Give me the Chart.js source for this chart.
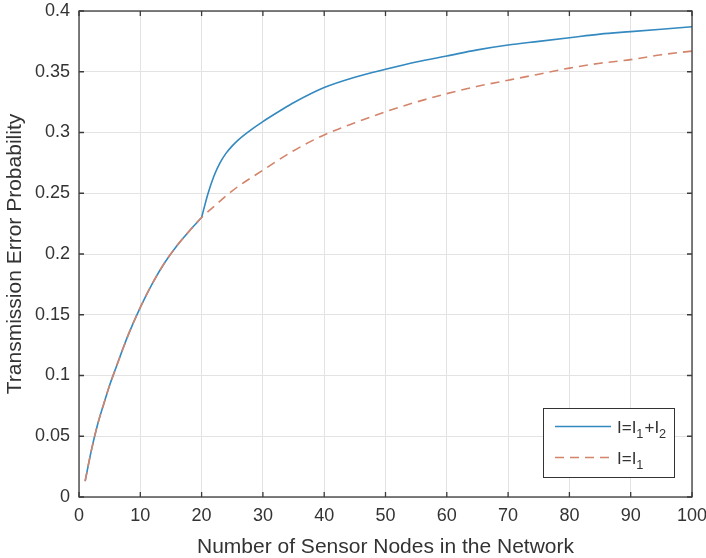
<!DOCTYPE html>
<html>
<head>
<meta charset="utf-8">
<script src="https://cdn.jsdelivr.net/npm/chart.js@4/dist/chart.umd.min.js"></script>
<style>
  html, body { margin: 0; padding: 0; background: #fff; }
  #wrap { width: 706px; height: 558px; position: relative; }
</style>
</head>
<body>
<div id="wrap"><canvas id="c" width="706" height="558"></canvas></div>
<script>
// ---- data ----
// I = I1 + I2 (shared part up to 20, then its own branch)
const xBothA = [1, 2, 3, 4, 5, 6, 8, 10, 12, 14, 16, 18, 20];
const yBothA = [0.013, 0.038, 0.059, 0.076, 0.092, 0.106, 0.133, 0.156, 0.176, 0.193, 0.207, 0.219, 0.230];
const xBothB = [20, 21, 22, 23, 24, 25, 26, 28, 30, 33, 35, 40, 45, 50, 55, 60, 65, 70, 75, 80, 85, 90, 95, 100];
const yBothB = [0.230, 0.249, 0.264, 0.275, 0.283, 0.289, 0.294, 0.302, 0.309, 0.3185, 0.3245, 0.337, 0.3455, 0.352, 0.358, 0.363, 0.368, 0.372, 0.375, 0.378, 0.381, 0.383, 0.385, 0.387];
// I = I1
const xOne = [1, 2, 3, 4, 5, 6, 8, 10, 12, 14, 16, 18, 20, 22, 25, 30, 35, 40, 45, 50, 55, 60, 65, 70, 75, 80, 85, 90, 95, 100];
const yOne = [0.013, 0.038, 0.059, 0.076, 0.092, 0.106, 0.133, 0.156, 0.176, 0.193, 0.207, 0.219, 0.230, 0.239, 0.252, 0.269, 0.285, 0.298, 0.308, 0.317, 0.325, 0.332, 0.338, 0.343, 0.348, 0.353, 0.357, 0.360, 0.364, 0.367];
const seriesLabels = ['I=I_1+I_2', 'I=I_1'];
const xTitle = 'Number of Sensor Nodes in the Network';
const yTitle = 'Transmission Error Probability';

const FONT = "'Liberation Sans', Arial, Helvetica, sans-serif";
const TXT = '#333333';
const BLUE = '#3389c0';
const RED = '#d4846a';

function pts(xs, ys) { return xs.map((x, i) => ({ x: x, y: ys[i] })); }

// draw label with "_n" subscripts
function drawSubLabel(ctx, text, x, y, size) {
  const parts = text.split(/(_\d)/).filter(s => s.length);
  let cx = x;
  ctx.textBaseline = 'alphabetic';
  ctx.textAlign = 'left';
  for (const p of parts) {
    if (p[0] === '_') {
      ctx.font = (size * 0.75) + 'px ' + FONT;
      ctx.fillText(p.slice(1), cx, y + size * 0.33);
      cx += ctx.measureText(p.slice(1)).width + 1;
    } else {
      ctx.font = size + 'px ' + FONT;
      ctx.fillText(p, cx, y);
      cx += ctx.measureText(p).width;
    }
  }
}

const boxPlugin = {
  id: 'boxPlugin',
  afterDatasetsDraw(chart) {
    const { ctx, chartArea: a, scales } = chart;
    ctx.save();
    ctx.strokeStyle = '#3a3a3a';
    ctx.lineWidth = 1.3;
    ctx.strokeRect(a.left, a.top, a.right - a.left, a.bottom - a.top);
    const tl = 5;
    ctx.beginPath();
    scales.x.ticks.forEach(t => {
      const px = scales.x.getPixelForValue(t.value);
      ctx.moveTo(px, a.bottom); ctx.lineTo(px, a.bottom - tl);
      ctx.moveTo(px, a.top); ctx.lineTo(px, a.top + tl);
    });
    scales.y.ticks.forEach(t => {
      const py = scales.y.getPixelForValue(t.value);
      ctx.moveTo(a.left, py); ctx.lineTo(a.left + tl, py);
      ctx.moveTo(a.right, py); ctx.lineTo(a.right - tl, py);
    });
    ctx.stroke();

    // legend (inside the axes, lower right)
    const lx = 543, ly = 408, lw = 131, lh = 69;
    ctx.fillStyle = '#ffffff';
    ctx.fillRect(lx, ly, lw, lh);
    ctx.strokeStyle = '#333333';
    ctx.lineWidth = 1;
    ctx.strokeRect(lx + 0.5, ly + 0.5, lw, lh);
    const legendItems = [chart.data.datasets[0], chart.data.datasets[2]];
    legendItems.forEach((ds, i) => {
      const yy = [426.5, 457.5][i];
      ctx.strokeStyle = ds.borderColor;
      ctx.lineWidth = ds.borderWidth;
      ctx.setLineDash(ds.borderDash || []);
      ctx.beginPath();
      ctx.moveTo(555, yy); ctx.lineTo(611, yy);
      ctx.stroke();
      ctx.setLineDash([]);
      ctx.fillStyle = TXT;
      drawSubLabel(ctx, ds.label, 617, yy + 6, 17);
    });
    ctx.restore();
  }
};

const common = { pointRadius: 0, cubicInterpolationMode: 'monotone', fill: false, borderWidth: 1.6 };

new Chart(document.getElementById('c'), {
  type: 'line',
  data: {
    datasets: [
      Object.assign({ label: seriesLabels[0], data: pts(xBothA, yBothA), borderColor: BLUE, order: 1 }, common),
      Object.assign({ label: seriesLabels[0], data: pts(xBothB, yBothB), borderColor: BLUE, order: 1 }, common),
      Object.assign({ label: seriesLabels[1], data: pts(xOne, yOne), borderColor: RED, borderDash: [9, 6], order: 0 }, common)
    ]
  },
  options: {
    responsive: false,
    animation: false,
    devicePixelRatio: 1,
    layout: { padding: { top: 11, right: 14, left: 0, bottom: 0 } },
    plugins: { legend: { display: false }, tooltip: { enabled: false } },
    scales: {
      x: {
        type: 'linear', min: 0, max: 100,
        ticks: { stepSize: 10, color: TXT, font: { family: FONT, size: 18 }, padding: 8, maxRotation: 0 },
        grid: { color: '#e3e3e3', drawTicks: false, lineWidth: 1 },
        border: { display: false },
        title: { display: true, text: xTitle, color: TXT, font: { family: FONT, size: 21, lineHeight: 1 }, padding: 0 },
        afterFit(s) { s.height = 61; s.paddingLeft = 0; s.paddingRight = 0; }
      },
      y: {
        type: 'linear', min: 0, max: 0.4,
        ticks: { stepSize: 0.05, color: TXT, font: { family: FONT, size: 18 }, padding: 9,
          callback: v => String(Number(v.toFixed(2))) },
        grid: { color: '#e3e3e3', drawTicks: false, lineWidth: 1 },
        border: { display: false },
        title: { display: true, text: yTitle, color: TXT, font: { family: FONT, size: 21, lineHeight: 1.2 }, padding: 3 },
        afterFit(s) { s.width = 79; s.paddingTop = 0; s.paddingBottom = 0; }
      }
    }
  },
  plugins: [boxPlugin]
});
</script>
</body>
</html>
